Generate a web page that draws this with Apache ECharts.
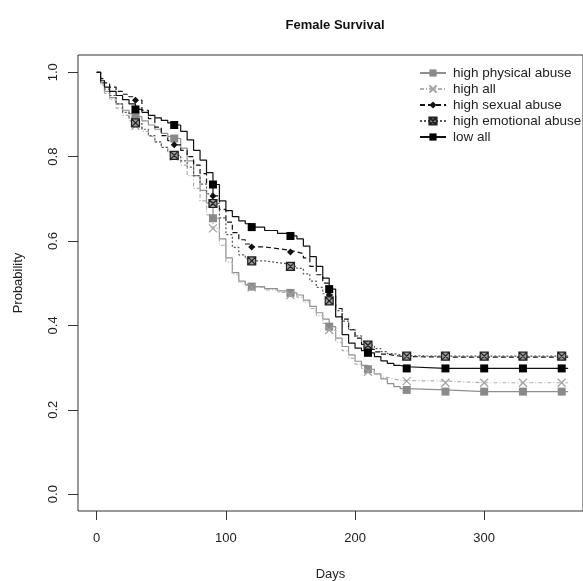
<!DOCTYPE html>
<html>
<head>
<meta charset="utf-8">
<title>Female Survival</title>
<script src="https://cdn.jsdelivr.net/npm/echarts@6/dist/echarts.min.js"></script>
<style>
  html, body { margin: 0; padding: 0; background: #fff; }
  #main { width: 583px; height: 581px; }
</style>
</head>
<body>
<div id="main"></div>
<script type="text/javascript">
// survival curves, one value per day in `days`
const days = [0, 3, 6, 10, 15, 20, 25, 30, 35, 40, 45, 50, 55, 60, 65, 70, 75, 80, 85, 90,
  95, 100, 105, 110, 115, 120, 130, 140, 150, 155, 160, 165, 170, 175, 180,
  185, 190, 195, 200, 205, 210, 215, 220, 225, 230, 235, 240, 270, 300, 330, 360, 365];

const highPhysical = [1.0, 0.975, 0.955, 0.94, 0.925, 0.91, 0.902, 0.895, 0.885, 0.875, 0.865, 0.855, 0.848, 0.843, 0.82, 0.79, 0.755, 0.72, 0.69, 0.654,
  0.605, 0.56, 0.525, 0.505, 0.497, 0.492, 0.487, 0.482, 0.477, 0.472, 0.46, 0.445, 0.43, 0.415, 0.397,
  0.37, 0.35, 0.33, 0.315, 0.305, 0.296, 0.285, 0.273, 0.262, 0.255, 0.25, 0.247, 0.243, 0.243, 0.243, 0.243, 0.243];

const highAll = [1.0, 0.97, 0.95, 0.935, 0.915, 0.898, 0.885, 0.873, 0.86, 0.848, 0.835, 0.822, 0.81, 0.80, 0.78, 0.755, 0.725, 0.695, 0.662, 0.63,
  0.59, 0.55, 0.52, 0.503, 0.495, 0.49, 0.484, 0.478, 0.472, 0.467, 0.455, 0.44, 0.423, 0.405, 0.389,
  0.36, 0.34, 0.322, 0.308, 0.298, 0.29, 0.283, 0.277, 0.273, 0.27, 0.269, 0.268, 0.264, 0.264, 0.264, 0.264, 0.264];

const highSexual = [1.0, 0.985, 0.975, 0.965, 0.955, 0.948, 0.942, 0.934, 0.91, 0.89, 0.87, 0.85, 0.838, 0.828, 0.815, 0.80, 0.78, 0.76, 0.735, 0.707,
  0.675, 0.645, 0.62, 0.603, 0.593, 0.586, 0.582, 0.578, 0.574, 0.57, 0.56, 0.54, 0.52, 0.50, 0.472,
  0.44, 0.415, 0.39, 0.37, 0.355, 0.343, 0.337, 0.332, 0.329, 0.327, 0.326, 0.325, 0.325, 0.325, 0.325, 0.325, 0.325];

const highEmotional = [1.0, 0.975, 0.96, 0.945, 0.925, 0.905, 0.892, 0.88, 0.865, 0.85, 0.835, 0.822, 0.812, 0.803, 0.79, 0.775, 0.755, 0.735, 0.712, 0.689,
  0.655, 0.615, 0.585, 0.567, 0.558, 0.553, 0.549, 0.545, 0.54, 0.535, 0.522, 0.505, 0.49, 0.475, 0.458,
  0.435, 0.41, 0.39, 0.375, 0.362, 0.353, 0.345, 0.338, 0.333, 0.33, 0.328, 0.327, 0.327, 0.327, 0.327, 0.327, 0.327];

const lowAll = [1.0, 0.98, 0.965, 0.955, 0.945, 0.935, 0.925, 0.912, 0.905, 0.898, 0.892, 0.886, 0.88, 0.875, 0.86, 0.84, 0.815, 0.792, 0.762, 0.734,
  0.695, 0.672, 0.658, 0.648, 0.641, 0.633, 0.625, 0.618, 0.612, 0.605, 0.588, 0.563, 0.54, 0.512, 0.486,
  0.42, 0.378, 0.358, 0.346, 0.34, 0.335, 0.326, 0.316, 0.31, 0.305, 0.302, 0.298, 0.298, 0.298, 0.298, 0.298, 0.298];

const markerDays = [30, 60, 90, 120, 150, 180, 210, 240, 270, 300, 330, 360];
const xTicks = [0, 100, 200, 300];
const yTicks = [0, 0.2, 0.4, 0.6, 0.8, 1.0];

const FONT = 'Liberation Sans, Arial, sans-serif';
const crossPath = 'path://M0,0L10,10M10,0L0,10';
const boxCrossPath = 'path://M0,0L10,0L10,10L0,10Z M0,0L10,10M10,0L0,10';

function curve(vals) {
  return days.map((d, i) => markerDays.includes(d)
    ? { value: [d, vals[i]] }
    : { value: [d, vals[i]], symbol: 'none' });
}

function km(name, vals, color, lineType, symbol, symbolSize, fill, border) {
  return {
    name: name,
    type: 'line',
    step: 'end',
    data: curve(vals),
    symbol: symbol,
    symbolSize: symbolSize,
    showSymbol: true,
    showAllSymbol: true,
    lineStyle: { color: color, width: 1.2, type: lineType },
    itemStyle: { color: fill, borderColor: border, borderWidth: border ? 1.2 : 0 },
    emphasis: { disabled: true }
  };
}

const myChart = echarts.init(document.getElementById('main'));
const options = {
  animation: false,
  backgroundColor: '#fff',
  textStyle: { fontFamily: FONT },
  title: {
    text: 'Female Survival',
    left: 330, top: 14, textAlign: 'center',
    textStyle: { fontFamily: FONT, fontSize: 13, fontWeight: 'bold', color: '#111' }
  },
  legend: {
    orient: 'vertical',
    left: 414, top: 61,
    itemWidth: 26, itemHeight: 9, itemGap: 2,
    textStyle: { fontFamily: FONT, fontSize: 13.5, lineHeight: 14, color: '#222', padding: [0, 0, 0, 2] },
    data: ['high physical abuse', 'high all', 'high sexual abuse', 'high emotional abuse', 'low all']
  },
  grid: {
    left: 78, top: 55, right: 0, bottom: 70,
    outerBoundsMode: 'none',
    show: true, borderColor: '#333', borderWidth: 1, backgroundColor: 'transparent'
  },
  xAxis: {
    type: 'value', min: -14.5, max: 376.5,
    name: 'Days', nameLocation: 'middle', nameGap: 57,
    nameTextStyle: { fontFamily: FONT, fontSize: 13, color: '#222' },
    axisLine: { show: false, onZero: false },
    axisTick: { show: true, inside: false, customValues: xTicks, length: 9, lineStyle: { color: '#333' } },
    axisLabel: { customValues: xTicks, margin: 21, fontFamily: FONT, fontSize: 13, color: '#222' },
    splitLine: { show: false }
  },
  yAxis: {
    type: 'value', min: -0.04, max: 1.041,
    name: 'Probability', nameLocation: 'middle', nameGap: 53,
    nameTextStyle: { fontFamily: FONT, fontSize: 13, color: '#222' },
    axisLine: { show: false, onZero: false },
    axisTick: { show: true, inside: false, customValues: yTicks, length: 10, lineStyle: { color: '#333' } },
    axisLabel: {
      customValues: yTicks, rotate: 90, margin: 18,
      fontFamily: FONT, fontSize: 13, color: '#222',
      formatter: v => v.toFixed(1)
    },
    splitLine: { show: false }
  },
  series: [
    km('high physical abuse', highPhysical, '#8f8f8f', 'solid', 'rect', 8, '#8a8a8a', null),
    km('high all', highAll, '#b0b0b0', [4, 2, 1, 2], crossPath, 8, 'transparent', '#a0a0a0'),
    km('high sexual abuse', highSexual, '#111', [5, 3], 'diamond', 7, '#111', null),
    km('high emotional abuse', highEmotional, '#555', [2, 2], boxCrossPath, 8, '#9a9a9a', '#222'),
    km('low all', lowAll, '#111', 'solid', 'rect', 8, '#000', null)
  ]
};
myChart.setOption(options);
</script>
</body>
</html>
